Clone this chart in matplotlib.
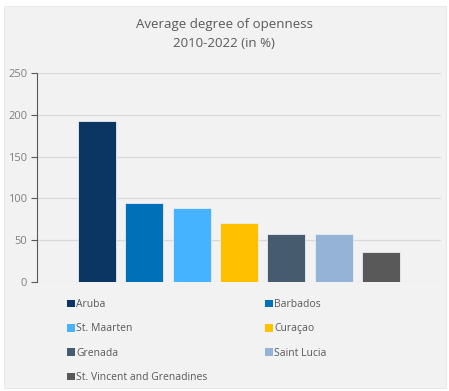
import matplotlib
matplotlib.use("Agg")
import matplotlib.pyplot as plt
from matplotlib.patches import Rectangle, Patch

countries = ["Aruba", "Barbados", "St. Maarten", "Curaçao", "Grenada",
             "Saint Lucia", "St. Vincent and Grenadines"]
openness = [193, 94, 88, 71, 58, 57, 36]
colors = ["#0b3563", "#0070b8", "#45b3ff", "#ffc000", "#475b6e",
          "#95b3d7", "#595959"]
yticks = [0, 50, 100, 150, 200, 250]
title = "Average degree of openness\n2010-2022 (in %)"

plt.rcParams["font.family"] = ["Open Sans", "DejaVu Sans"]

W, H = 449, 391
fig = plt.figure(figsize=(W / 100, H / 100), dpi=100)
fig.patch.set_facecolor("white")

# light grey chart panel behind everything
fig.patches.append(Rectangle((4 / W, 3 / H), 442 / W, 382 / H,
                             transform=fig.transFigure, facecolor="#f2f2f2",
                             edgecolor="#e6e6e6", linewidth=0.6, zorder=-5))

ax = fig.add_axes([37 / W, 1 - 282 / H, 404 / W, 209 / H])
ax.set_facecolor("none")
ax.set_zorder(2)

x = range(len(countries))
ax.bar(x, openness, width=0.8, color=colors, edgecolor="#e8eef5",
       linewidth=0.6, zorder=3)

ax.set_xlim(-1.27, 7.27)
ax.set_ylim(0, 250)
ax.set_yticks(yticks)
ax.set_xticks([])
ax.yaxis.grid(True, color="#d9d9d9", linewidth=0.9, zorder=0)
ax.set_axisbelow(True)
for s in ["top", "right", "bottom"]:
    ax.spines[s].set_visible(False)
ax.spines["left"].set_color("#595959")
ax.spines["left"].set_linewidth(0.8)
ax.tick_params(axis="y", colors="#595959", labelcolor="#7f7f7f",
               labelsize=8, length=4, width=0.8, pad=3)

fig.text(224 / W, 1 - 34 / H, title, ha="center", va="center",
         fontsize=9.5, color="#595959", linespacing=1.55)

# legend laid out row by row in two columns
order = [0, 2, 4, 6, 1, 3, 5]
handles = [Patch(facecolor=colors[i], edgecolor="none") for i in order]
labels = [countries[i] for i in order]
leg = fig.legend(handles, labels, loc="upper left",
                 bbox_to_anchor=(67 / W, 1 - 299 / H), ncol=2,
                 frameon=False, fontsize=7.5, handlelength=0.75,
                 handleheight=0.75, handletextpad=0.15, columnspacing=5.5,
                 labelspacing=1.28, borderaxespad=0, borderpad=0)
for t in leg.get_texts():
    t.set_color("#595959")

fig.savefig("out.png", dpi=100, facecolor="white")
